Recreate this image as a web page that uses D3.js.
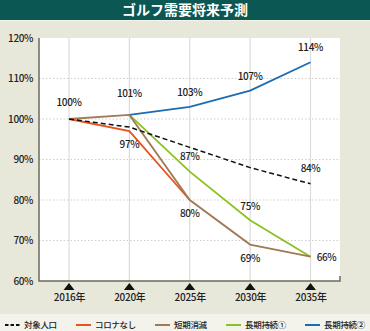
<!DOCTYPE html>
<html><head><meta charset="utf-8">
<script src="https://cdn.jsdelivr.net/npm/d3@7"></script>
<style>
body{margin:0;background:#e8e8da;}
svg{display:block;font-family:"Noto Sans CJK JP","Noto Sans",sans-serif;}
</style></head><body>
<svg id="c" width="370" height="331"></svg>
<script>
const years = ["2016年","2020年","2025年","2030年","2035年"];
const yTicks = [60,70,80,90,100,110,120];
const popValues = [100,98,93,88,84];
const noCovidValues = [100,97,80,null,null];
const shortValues = [100,101,80,69,66];
const long1Values = [null,101,87,75,66];
const long2Values = [null,101,103,107,114];
const seriesNames = ["対象人口","コロナなし","短期消滅","長期持続①","長期持続②"];
const seriesColors = ["#111111","#e8531f","#a07a55","#8cc21f","#1c6bb3"];
// value labels: [yearIndex, value, placement]
const valueLabels = [
  [0,100,-13],[1,101,-18],[1,97,"b"],[2,103,-11],[2,87,"p"],[2,80,"b"],
  [3,107,-11],[3,75,"q"],[3,69,"b"],[4,114,-11],[4,84,"r"],[4,66,"s"]
];

const svg = d3.select("#c");
const W=370,H=331;
svg.append("rect").attr("width",W).attr("height",H).attr("fill","#e8e8da");
svg.append("rect").attr("width",W).attr("height",20).attr("fill","#0b5753");
svg.append("line").attr("x1",0).attr("x2",W).attr("y1",20.5).attr("y2",20.5).attr("stroke","#f4f4ec").attr("stroke-width",1);
svg.append("text").attr("x",W/2).attr("y",15).attr("text-anchor","middle").attr("fill","#fff")
  .attr("font-size",14).attr("font-weight","bold").text("ゴルフ需要将来予測");

const L=39,R=340,T=38,B=281;
const x = d3.scalePoint().domain(years).range([69,310.5]);
const y = d3.scaleLinear().domain([60,120]).range([B,T]);

svg.append("rect").attr("x",L).attr("y",T).attr("width",R-L).attr("height",B-T).attr("fill","#fff");
svg.append("g").selectAll("line").data(years).join("line")
  .attr("x1",d=>x(d)).attr("x2",d=>x(d)).attr("y1",T).attr("y2",B)
  .attr("stroke","#dcdcdc").attr("stroke-width",1.2);
svg.append("g").selectAll("line").data(yTicks.filter(v=>v>60&&v<120)).join("line")
  .attr("x1",L).attr("x2",R).attr("y1",d=>y(d)).attr("y2",d=>y(d))
  .attr("stroke","#cfcfcf").attr("stroke-width",1).attr("stroke-dasharray","1.5,2");

const yAxis = d3.axisLeft(y).tickValues(yTicks).tickSize(0).tickPadding(6).tickFormat(d=>d+"%");
const ya = svg.append("g").attr("transform",`translate(${L},0)`).call(yAxis);
ya.select(".domain").remove();
ya.selectAll("text").attr("font-size",10).attr("fill","#222").attr("font-family","'Noto Sans CJK JP',sans-serif").attr("font-weight",500).attr("letter-spacing",-0.4);

svg.append("path").attr("d",`M${L},${T}V${B}H${R}V${B-5}`).attr("fill","none").attr("stroke","#6b6b5f").attr("stroke-width",1.5);

const xAxis = d3.axisBottom(x).tickSize(0).tickPadding(13);
const xa = svg.append("g").attr("transform",`translate(0,${B})`).call(xAxis);
xa.select(".domain").remove();
xa.selectAll("text").attr("font-size",10).attr("fill","#222").attr("font-family","'Noto Sans CJK JP',sans-serif").attr("font-weight",500).attr("letter-spacing",-0.3);
svg.append("g").selectAll("path").data(years).join("path")
  .attr("d",d=>`M${x(d)},${B+2}L${x(d)+5.5},${B+9}L${x(d)-5.5},${B+9}Z`).attr("fill","#111");

const line = d3.line().defined(d=>d[1]!=null).x(d=>x(d[0])).y(d=>y(d[1]));
const seriesData = [popValues,noCovidValues,shortValues,long1Values,long2Values];
const order = [1,3,4,2,0];
order.forEach(i=>{
  const pts = years.map((yr,j)=>[yr,seriesData[i][j]]);
  svg.append("path").datum(pts).attr("d",line).attr("fill","none")
    .attr("stroke",seriesColors[i]).attr("stroke-width",i===0?1.5:1.8)
    .attr("stroke-dasharray",i===0?"5,3":null);
});

const off = {b:[0,17],p:[0,-12],q:[0,-10],r:[0,-12],s:[16,4]};
svg.append("g").selectAll("text").data(valueLabels).join("text")
  .attr("x",d=>x(years[d[0]]) + (typeof d[2]==="string"?off[d[2]][0]:0))
  .attr("y",d=>{
    const base=y(d[1]);
    return typeof d[2]==="string" ? base+off[d[2]][1] : base+d[2];
  })
  .attr("text-anchor","middle").attr("font-size",10).attr("font-weight",500).attr("fill","#222")
  .attr("letter-spacing",-0.4)
  .text(d=>d[1]+"%");

svg.append("rect").attr("x",0).attr("y",314).attr("width",W).attr("height",H-314).attr("fill","#f3f3ec");
const legX = [5,76,155,226,305];
const lg = svg.append("g").selectAll("g").data(seriesNames).join("g")
  .attr("transform",(d,i)=>`translate(${legX[i]},325)`);
lg.append("line").attr("x1",0).attr("x2",15).attr("y1",0).attr("y2",0)
  .attr("stroke",(d,i)=>seriesColors[i]).attr("stroke-width",2)
  .attr("stroke-dasharray",(d,i)=>i===0?"3.5,2":null);
lg.append("text").attr("x",19).attr("y",3.3).attr("font-size",8.5).attr("font-weight",500)
  .attr("letter-spacing",-0.3).attr("fill","#222").text(d=>d);
</script></body></html>
